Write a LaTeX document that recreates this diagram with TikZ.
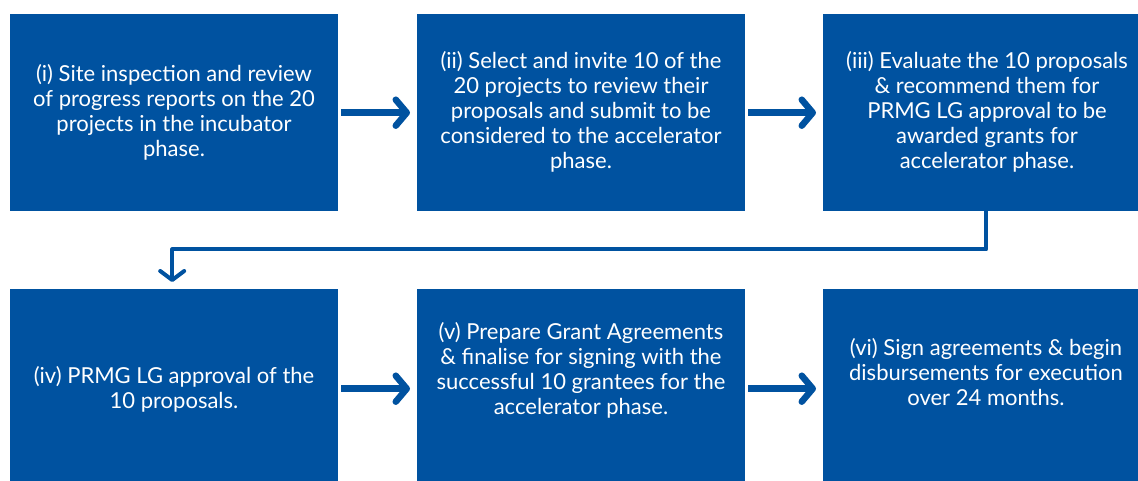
\documentclass[tikz,border=0pt]{standalone}
\usepackage{fontspec}
\setmainfont{Lato}
\usetikzlibrary{arrows.meta,calc}
\definecolor{boxblue}{RGB}{0,82,160}
\begin{document}
\begin{tikzpicture}[x=1pt,y=-1pt,
  stepbox/.style={fill=boxblue, draw=none, minimum width=328pt, minimum height=197pt, inner sep=0pt, anchor=north west},
  steptext/.style={text=white, align=center, inner sep=0pt, font=\fontsize{22}{25}\selectfont},
  flow/.style={draw=boxblue, line width=6.5pt, shorten <=3pt, shorten >=7pt, -{Straight Barb[length=11pt,width=26pt,round]}},
  link/.style={draw=boxblue, line width=4pt, line join=round, -{Straight Barb[length=9pt,width=24pt,round]}}]
\useasboundingbox (0,0) rectangle (1138,481);
\fill[white] (0,0) rectangle (1138,481);

\node[stepbox] (b1) at (10,14) {};
\node[stepbox] (b2) at (417,14) {};
\node[stepbox] (b3) at (823,14) {};
\node[stepbox] (b4) at (10,289) {};
\node[stepbox] (b5) at (417,289) {};
\node[stepbox] (b6) at (823,289) {};

\node[steptext] (t1) at (174,112) {(i) Site inspection and review\\of progress reports on the 20\\projects in the incubator\\phase.};
\node[steptext] (t2) at (581,112) {(ii) Select and invite 10 of the\\20 projects to review their\\proposals and submit to be\\considered to the accelerator\\phase.};
\node[steptext] (t3) at (987,112) {(iii) Evaluate the 10 proposals\\\& recommend them for\\PRMG LG approval to be\\awarded grants for\\accelerator phase.};
\node[steptext] (t4) at (174,389) {(iv) PRMG LG approval of the\\10 proposals.};
\node[steptext] (t5) at (581,370) {(v) Prepare Grant Agreements\\\& finalise for signing with the\\successful 10 grantees for the\\accelerator phase.};
\node[steptext] (t6) at (986,372) {(vi) Sign agreements \& begin\\disbursements for execution\\over 24 months.};

\draw[flow] (b1.east) -- (b2.west);
\draw[flow] (b2.east) -- (b3.west);
\draw[flow] ([yshift=-1pt]b4.east) -- ([yshift=-1pt]b5.west);
\draw[flow] ([yshift=-1pt]b5.east) -- ([yshift=-1pt]b6.west);
\draw[link] ([xshift=-1pt]b3.south) -- ++(0,38) -| ([xshift=-2pt,yshift=7pt]b4.north);
\end{tikzpicture}
\end{document}
